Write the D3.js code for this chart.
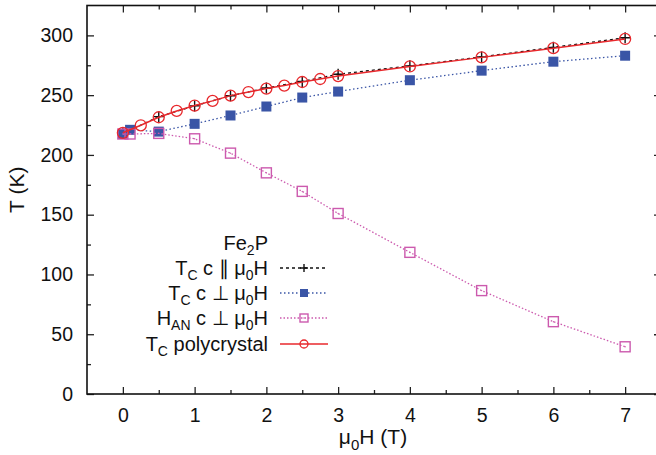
<!DOCTYPE html>
<html>
<head>
<meta charset="utf-8">
<script src="https://cdn.jsdelivr.net/npm/d3@7"></script>
<style>
  html, body { margin: 0; padding: 0; background: #fff; }
  svg { display: block; font-family: "Liberation Sans", Arial, Helvetica, sans-serif; }
</style>
</head>
<body>
<svg id="chart" width="656" height="455"></svg>
<script>
// Fe2P: Curie temperature and anisotropy field versus applied field
const fieldPar = [0, 0.5, 1, 1.5, 2, 2.5, 3, 4, 5, 6, 7];
const tcPar    = [218, 232, 241, 249.5, 256, 261.5, 267.5, 274.5, 282, 290, 298];

const fieldPerp = [0, 0.1, 0.5, 1, 1.5, 2, 2.5, 3, 4, 5, 6, 7];
const tcPerp    = [217.5, 221, 219.5, 226, 233, 240.5, 248, 253, 262.5, 270.5, 278, 283];

const fieldAn = [0, 0.1, 0.5, 1, 1.5, 2, 2.5, 3, 4, 5, 6, 7];
const hAn     = [217.5, 217.5, 218, 213.5, 201.5, 185, 169.5, 151, 118.5, 86.5, 60.5, 39.5];

const fieldPoly = [0, 0.25, 0.5, 0.75, 1, 1.25, 1.5, 1.75, 2, 2.25, 2.5, 2.75, 3, 4, 5, 6, 7];
const tcPoly    = [218.5, 224.8, 231.5, 236.8, 241.3, 245.2, 249.6, 252.6, 255.5, 258, 261, 263.5, 266, 274, 281.6, 289.3, 297];

const xTicks = [0, 1, 2, 3, 4, 5, 6, 7];
const yTicks = [0, 50, 100, 150, 200, 250, 300];

const svg = d3.select("#chart");
const plotLeft = 87, plotRight = 661, plotTop = 5.5, plotBottom = 394;

const x = d3.scaleLinear().domain([-0.5, 7.5]).range([plotLeft, plotRight]);
const y = d3.scaleLinear().domain([0, 325]).range([plotBottom, plotTop]);

const tickColor = "#222";

// minor ticks
const xMinor = d3.range(0, 7.51, 0.5).filter(v => !Number.isInteger(v));
const yMinor = d3.range(25, 325, 50);

function styleAxis(g) {
  g.select(".domain").remove();
  g.selectAll(".tick line").attr("stroke", tickColor).attr("stroke-width", 1.3);
  g.selectAll(".tick text").attr("fill", "#111").style("font-size", "19.5px")
    .style("font-family", "'Liberation Sans', Arial, sans-serif");
}

// bottom axis with labels
svg.append("g").attr("transform", `translate(0,${plotBottom})`)
  .call(d3.axisBottom(x).tickValues(xTicks).tickSize(-7).tickPadding(14).tickFormat(d3.format("d")))
  .call(styleAxis);
svg.append("g").attr("transform", `translate(0,${plotBottom})`)
  .call(d3.axisBottom(x).tickValues(xMinor).tickSize(-4).tickFormat(""))
  .call(styleAxis);
// top mirror ticks
svg.append("g").attr("transform", `translate(0,${plotTop})`)
  .call(d3.axisTop(x).tickValues(xTicks).tickSize(-7).tickFormat(""))
  .call(styleAxis);
svg.append("g").attr("transform", `translate(0,${plotTop})`)
  .call(d3.axisTop(x).tickValues(xMinor).tickSize(-4).tickFormat(""))
  .call(styleAxis);
// left axis with labels
svg.append("g").attr("transform", `translate(${plotLeft},0)`)
  .call(d3.axisLeft(y).tickValues(yTicks).tickSize(-7).tickPadding(14).tickFormat(d3.format("d")))
  .call(styleAxis);
svg.append("g").attr("transform", `translate(${plotLeft},0)`)
  .call(d3.axisLeft(y).tickValues(yMinor).tickSize(-4).tickFormat(""))
  .call(styleAxis);
// right mirror ticks
svg.append("g").attr("transform", `translate(${plotRight},0)`)
  .call(d3.axisRight(y).tickValues(yTicks).tickSize(-7).tickFormat(""))
  .call(styleAxis);
svg.append("g").attr("transform", `translate(${plotRight},0)`)
  .call(d3.axisRight(y).tickValues(yMinor).tickSize(-4).tickFormat(""))
  .call(styleAxis);

// frame
svg.append("rect")
  .attr("x", plotLeft).attr("y", plotTop)
  .attr("width", plotRight - plotLeft).attr("height", plotBottom - plotTop)
  .attr("fill", "none").attr("stroke", "#111").attr("stroke-width", 1.6);

// axis titles
const xt = svg.append("text")
  .attr("x", 373).attr("y", 444)
  .attr("text-anchor", "middle")
  .style("font-size", "21px").attr("fill", "#111");
xt.append("tspan").text("\u03bc");
xt.append("tspan").attr("dy", 6).style("font-size", "15px").text("0");
xt.append("tspan").attr("dy", -6).text("H (T)");

svg.append("text")
  .attr("transform", `translate(24,${(plotTop + plotBottom) / 2 - 10}) rotate(-90)`)
  .attr("text-anchor", "middle")
  .style("font-size", "21px").attr("fill", "#111")
  .text("T (K)");

// series styles
const series = [
  { xs: fieldPar,  ys: tcPar,  color: "#111",    dash: "3,3",     width: 1.3, marker: "plus" },
  { xs: fieldPerp, ys: tcPerp, color: "#3a55a6", dash: "1.5,2.5", width: 1.3, marker: "fsquare" },
  { xs: fieldAn,   ys: hAn,    color: "#cc5aae", dash: "1.5,2",   width: 1.3, marker: "osquare" },
  { xs: fieldPoly, ys: tcPoly, color: "#e8282c", dash: null,      width: 1.5, marker: "circle" }
];

function drawMarker(g, kind, cx, cy, color, size) {
  if (kind === "plus") {
    g.append("path")
      .attr("d", `M${cx - size / 2},${cy}H${cx + size / 2}M${cx},${cy - size / 2}V${cy + size / 2}`)
      .attr("stroke", color).attr("stroke-width", 1.4).attr("fill", "none");
  } else if (kind === "fsquare") {
    g.append("rect")
      .attr("x", cx - size / 2).attr("y", cy - size / 2)
      .attr("width", size).attr("height", size)
      .attr("fill", color);
  } else if (kind === "osquare") {
    g.append("rect")
      .attr("x", cx - size / 2).attr("y", cy - size / 2)
      .attr("width", size).attr("height", size)
      .attr("fill", "none").attr("stroke", color).attr("stroke-width", 1.4);
    g.append("circle").attr("cx", cx).attr("cy", cy).attr("r", 0.7).attr("fill", color);
  } else if (kind === "circle") {
    g.append("circle")
      .attr("cx", cx).attr("cy", cy).attr("r", size / 2)
      .attr("fill", "none").attr("stroke", color).attr("stroke-width", 1.3);
  }
}

const markerSize = { plus: 11, fsquare: 10, osquare: 10, circle: 11 };
const legendSize = { plus: 8, fsquare: 8, osquare: 8, circle: 8 };

const line = d3.line().x(d => x(d[0])).y(d => y(d[1]));
const plot = svg.append("g");

series.forEach(s => {
  const pts = s.xs.map((v, i) => [v, s.ys[i]]);
  const g = plot.append("g");
  g.append("path")
    .attr("d", line(pts))
    .attr("fill", "none")
    .attr("stroke", s.color)
    .attr("stroke-width", s.width)
    .attr("stroke-dasharray", s.dash);
  pts.forEach(p => drawMarker(g, s.marker, x(p[0]), y(p[1]), s.color, markerSize[s.marker]));
});

// legend
const legendLabels = [
  [["T", 0], ["C", 1], [" c \u2225 \u03bc", 0], ["0", 1], ["H", 0]],
  [["T", 0], ["C", 1], [" c \u22a5 \u03bc", 0], ["0", 1], ["H", 0]],
  [["H", 0], ["AN", 1], [" c \u22a5 \u03bc", 0], ["0", 1], ["H", 0]],
  [["T", 0], ["C", 1], [" polycrystal", 0]]
];
const legendX = 268, sampleX0 = 280, sampleX1 = 328;
const rowY = [268, 293, 318, 344];

const lg = svg.append("g");
const title = lg.append("text")
  .attr("x", legendX).attr("y", 250)
  .attr("text-anchor", "end")
  .style("font-size", "20px").attr("fill", "#111");
title.append("tspan").text("Fe");
title.append("tspan").attr("dy", 5).style("font-size", "14px").text("2");
title.append("tspan").attr("dy", -5).text("P");

series.forEach((s, i) => {
  const cy = rowY[i];
  const t = lg.append("text")
    .attr("x", legendX).attr("y", cy + 7)
    .attr("text-anchor", "end")
    .style("font-size", "20px").attr("fill", "#111");
  let sub = 0;
  legendLabels[i].forEach(([txt, isSub]) => {
    const ts = t.append("tspan").text(txt);
    if (isSub && !sub) { ts.attr("dy", 5).style("font-size", "14px"); sub = 1; }
    else if (isSub && sub) { ts.style("font-size", "14px"); }
    else if (!isSub && sub) { ts.attr("dy", -5); sub = 0; }
  });
  lg.append("line")
    .attr("x1", sampleX0).attr("x2", sampleX1)
    .attr("y1", cy).attr("y2", cy)
    .attr("stroke", s.color).attr("stroke-width", s.width)
    .attr("stroke-dasharray", s.dash);
  drawMarker(lg, s.marker, (sampleX0 + sampleX1) / 2, cy, s.color, legendSize[s.marker]);
});
</script>
</body>
</html>
